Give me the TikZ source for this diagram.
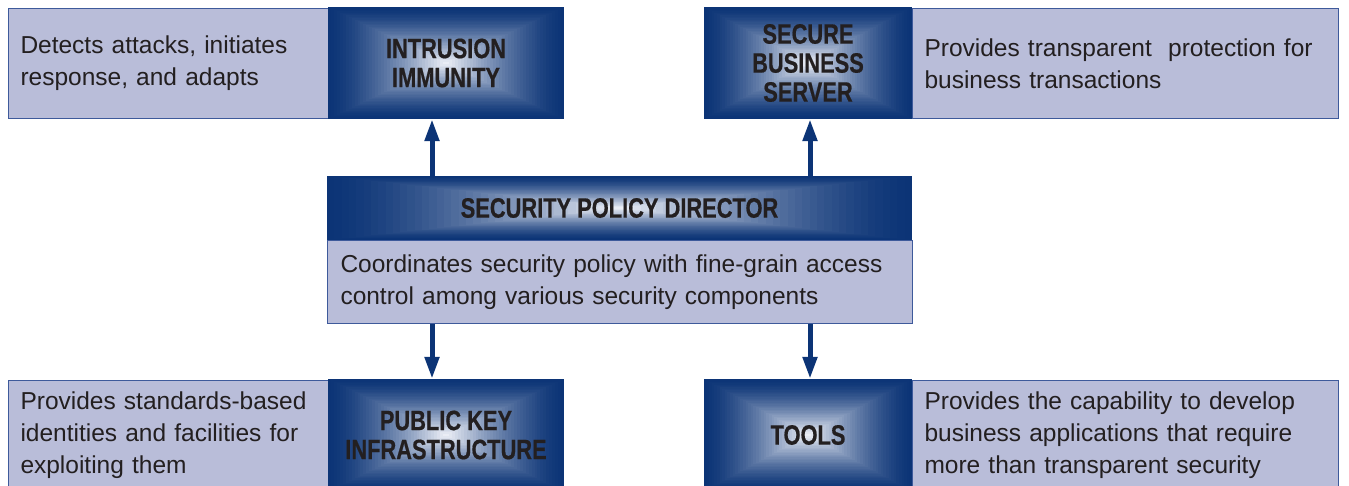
\documentclass[tikz,border=0pt]{standalone}
\usepackage{fontspec}
\setmainfont{Liberation Sans}
\newfontfamily\headfont[FakeStretch=0.78,FakeBold=0.6]{Liberation Sans Bold}
\usetikzlibrary{calc,arrows.meta}
\definecolor{darkc}{RGB}{12,52,118}
\definecolor{lightc}{RGB}{242,244,250}
\definecolor{descfill}{RGB}{185,189,217}
\definecolor{descline}{RGB}{62,90,155}
\definecolor{txt}{RGB}{35,31,32}
\tikzset{
  desc/.style={draw=descline, line width=1pt, fill=descfill, text=txt,
    inner xsep=12pt, inner ysep=0pt, align=left, anchor=north west,
    font=\fontsize{24.5}{32}\selectfont},
  gbox/.style={inner sep=0pt, text=txt, align=center,
    font=\headfont\fontsize{28}{29}\selectfont,
    path picture={
      \foreach \i in {0,...,40}{
        \pgfmathsetmacro\s{1-\i/40}
        \pgfmathsetmacro\f{100*(\i/40)^1.45}
        \fill[lightc!\f!darkc]
          ($(path picture bounding box.center)!\s!(path picture bounding box.south west)$)
          rectangle
          ($(path picture bounding box.center)!\s!(path picture bounding box.north east)$);
      }
    }},
  arr/.style={draw=darkc, line width=5pt, -{Triangle[width=14pt,length=22pt]}}
}
\begin{document}
\begin{tikzpicture}[x=1pt,y=-1pt]
\useasboundingbox (0,0) rectangle (1349,486);
\clip (0,0) rectangle (1349,486);
% description boxes
\node[desc, minimum width=320pt, minimum height=110pt, text width=296pt] (d1) at (8,8)
  {Detects attacks, initiates\\response, and adapts};
\node[desc, minimum width=426pt, minimum height=110pt, text width=402pt] (d2) at (912,8)
  {Provides transparent\ \ protection for\\business transactions};
\node[desc, minimum width=585pt, minimum height=83pt, text width=559pt, inner xsep=13pt] (spdd) at (327,240)
  {Coordinates security policy with fine-grain access\\control among various security components};
\node[desc, minimum width=320pt, minimum height=110pt, text width=296pt] (d3) at (8,380)
  {Provides standards-based\\identities and facilities for\\exploiting them};
\node[desc, minimum width=426pt, minimum height=110pt, text width=402pt] (d4) at (912,380)
  {Provides the capability to develop\\business applications that require\\more than transparent security};
% gradient boxes
\node[gbox, minimum width=236pt, minimum height=112pt] (i1) at (446,63) {INTRUSION\\IMMUNITY};
\node[gbox, minimum width=208pt, minimum height=112pt] (s1) at (808,63) {SECURE\\BUSINESS\\SERVER};
\node[gbox, minimum width=585pt, minimum height=64pt] (spdh) at (619.5,208) {SECURITY POLICY DIRECTOR};
\node[gbox, minimum width=236pt, minimum height=112pt] (pki) at (446,435) {PUBLIC KEY\\INFRASTRUCTURE};
\node[gbox, minimum width=208pt, minimum height=112pt] (tools) at (808,435) {TOOLS};
% arrows
\coordinate (a1) at (432,0);
\coordinate (a2) at (810,0);
\draw[arr] (spdh.north -| a1) -- (i1.south -| a1);
\draw[arr] (spdh.north -| a2) -- (s1.south -| a2);
\draw[arr] (spdd.south -| a1) -- (pki.north -| a1);
\draw[arr] (spdd.south -| a2) -- (tools.north -| a2);
\end{tikzpicture}
\end{document}
